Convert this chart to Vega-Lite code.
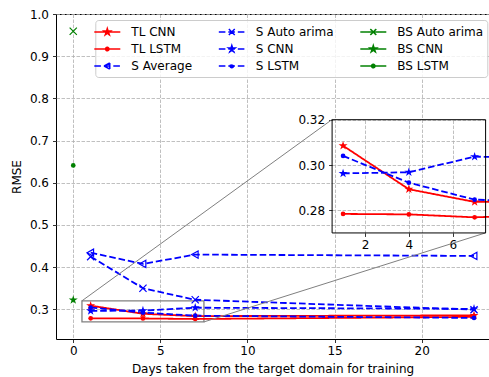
{
  "$schema": "https://vega.github.io/schema/vega-lite/v6.json",
  "width": 433,
  "height": 325,
  "autosize": "none",
  "padding": {"left": 56, "top": 14, "right": 0, "bottom": 38},
  "background": "white",
  "config": {
    "font": "DejaVu Sans",
    "view": {"stroke": "black", "strokeWidth": 1},
    "axis": {
      "labelFont": "DejaVu Sans", "labelFontSize": 12, "labelColor": "black",
      "titleFont": "DejaVu Sans", "titleFontSize": 12, "titleFontWeight": "normal", "titleColor": "black",
      "tickColor": "black", "tickSize": 3.5, "tickWidth": 0.8, "domain": false,
      "gridColor": "#b0b0b0", "gridDash": [3.5, 1.5], "gridWidth": 0.8
    }
  },
  "datasets": {
    "series": [
      {"series": "TL CNN", "x": 1, "y": 0.3085},
      {"series": "TL CNN", "x": 4, "y": 0.2893},
      {"series": "TL CNN", "x": 7, "y": 0.2837},
      {"series": "TL CNN", "x": 23, "y": 0.2855},
      {"series": "TL LSTM", "x": 1, "y": 0.2784},
      {"series": "TL LSTM", "x": 4, "y": 0.2782},
      {"series": "TL LSTM", "x": 7, "y": 0.2769},
      {"series": "TL LSTM", "x": 23, "y": 0.282},
      {"series": "S Average", "x": 1, "y": 0.434},
      {"series": "S Average", "x": 4, "y": 0.4075},
      {"series": "S Average", "x": 7, "y": 0.4296},
      {"series": "S Average", "x": 23, "y": 0.4265},
      {"series": "S Auto arima", "x": 1, "y": 0.4248},
      {"series": "S Auto arima", "x": 4, "y": 0.3498},
      {"series": "S Auto arima", "x": 7, "y": 0.3225},
      {"series": "S Auto arima", "x": 23, "y": 0.299},
      {"series": "S CNN", "x": 1, "y": 0.2963},
      {"series": "S CNN", "x": 4, "y": 0.2968},
      {"series": "S CNN", "x": 7, "y": 0.3037},
      {"series": "S CNN", "x": 23, "y": 0.301},
      {"series": "S LSTM", "x": 1, "y": 0.304},
      {"series": "S LSTM", "x": 4, "y": 0.2922},
      {"series": "S LSTM", "x": 7, "y": 0.2847},
      {"series": "S LSTM", "x": 23, "y": 0.2795},
      {"series": "BS Auto arima", "x": 0, "y": 0.959},
      {"series": "BS CNN", "x": 0, "y": 0.322},
      {"series": "BS LSTM", "x": 0, "y": 0.641}
    ],
    "zoom": [{"x": 0.5, "x2": 7.5, "y": 0.27, "y2": 0.32}],
    "conn": [
      {"x": 0.5, "y": 0.32, "x2": 14.86, "y2": 0.75},
      {"x": 7.5, "y": 0.27, "x2": 23.67, "y2": 0.4812}
    ]
  },
  "layer": [
    {
      "encoding": {
        "x": {"field": "x", "type": "quantitative",
          "scale": {"domain": [-0.99, 23.86], "nice": false, "zero": false},
          "axis": {"values": [0, 5, 10, 15, 20], "title": "Days taken from the target domain for training", "grid": true, "labelPadding": 3, "titlePadding": 6.5}},
        "y": {"field": "y", "type": "quantitative",
          "scale": {"domain": [0.2295, 1.0], "nice": false, "zero": false},
          "axis": {"values": [0.3, 0.4, 0.5, 0.6, 0.7, 0.8, 0.9, 1.0], "format": ".1f", "title": "RMSE", "grid": true, "labelPadding": 4, "titlePadding": 6}}
      },
      "layer": [
        {
          "data": {"name": "zoom"},
          "mark": {"type": "rect", "fill": null, "stroke": "#808080", "strokeWidth": 1.3},
          "encoding": {"x2": {"field": "x2"}, "y2": {"field": "y2"}}
        },
        {
          "data": {"name": "series"},
          "encoding": {
            "color": {"field": "series", "type": "nominal",
              "scale": {
                "domain": ["TL CNN", "TL LSTM", "S Average", "S Auto arima", "S CNN", "S LSTM", "BS Auto arima", "BS CNN", "BS LSTM"],
                "range": ["#ff0000", "#ff0000", "#0000ff", "#0000ff", "#0000ff", "#0000ff", "#008000", "#008000", "#008000"]
              },
              "legend": {
                "orient": "none", "legendX": 39.3, "legendY": 6, "columns": 3, "title": null,
                "labelFont": "DejaVu Sans", "labelFontSize": 12, "labelColor": "black", "labelOffset": 16,
                "symbolSize": 196, "symbolStrokeWidth": 1.5, "symbolOpacity": 1,
                "columnPadding": 23.5, "rowPadding": 3, "padding": 4,
                "fillColor": "rgba(255,255,255,0.8)", "strokeColor": "#cccccc", "cornerRadius": 3,
                "encode": {
                  "symbols": {
                    "update": {
                      "shape": {"signal": "indexof(datum.value,'CNN')>=0 ? 'M-1.857,0H1.857M0,-0.5L0.112,-0.155L0.476,-0.155L0.182,0.059L0.294,0.405L0,0.191L-0.294,0.405L-0.182,0.059L-0.476,-0.155L-0.112,-0.155Z' : indexof(datum.value,'LSTM')>=0 ? 'M-1.857,0H1.857M0.243,0A0.243,0.243,0,1,1,-0.243,0A0.243,0.243,0,1,1,0.243,0Z' : indexof(datum.value,'arima')>=0 ? 'M-1.857,0H1.857M0,0L0.42,0.42M0,0L-0.42,0.42M0,0L0.42,-0.42M0,0L-0.42,-0.42' : 'M-1.857,0H1.857M-0.44,0L0.35,-0.44M0.35,-0.44L0.35,0.44M0.35,0.44L-0.44,0'"},
                      "strokeDash": {"signal": "indexof(datum.value,'S ')===0 ? [6.6,2.9] : [1,0]"},
                      "fill": {"signal": "(indexof(datum.value,'CNN')>=0 || indexof(datum.value,'LSTM')>=0) ? (indexof(datum.value,'TL')===0 ? '#ff0000' : indexof(datum.value,'BS')===0 ? '#008000' : '#0000ff') : 'transparent'"},
                      "stroke": {"signal": "indexof(datum.value,'TL')===0 ? '#ff0000' : indexof(datum.value,'BS')===0 ? '#008000' : '#0000ff'"},
                      "strokeWidth": {"value": 1.5},
                      "size": {"value": 196}
                    }
                  }
                }
              }
            }
          },
          "layer": [
            {
              "mark": {"type": "line", "strokeWidth": 1.8, "clip": true},
              "encoding": {
                "strokeDash": {"field": "series", "type": "nominal",
                  "scale": {
                    "domain": ["TL CNN", "TL LSTM", "S Average", "S Auto arima", "S CNN", "S LSTM", "BS Auto arima", "BS CNN", "BS LSTM"],
                    "range": [[1, 0], [1, 0], [6.6, 2.9], [6.6, 2.9], [6.6, 2.9], [6.6, 2.9], [1, 0], [1, 0], [1, 0]]
                  },
                  "legend": null}
              }
            },
            {
              "transform": [{"filter": {"field": "series", "oneOf": ["TL CNN", "S CNN", "BS CNN"]}}],
              "mark": {"type": "point", "filled": true, "opacity": 1, "size": 90, "clip": true,
                "shape": "M0,-1L0.2245,-0.309L0.951,-0.309L0.363,0.118L0.588,0.809L0,0.382L-0.588,0.809L-0.363,0.118L-0.951,-0.309L-0.2245,-0.309Z"}
            },
            {
              "transform": [{"filter": {"field": "series", "oneOf": ["S Auto arima", "BS Auto arima"]}}],
              "mark": {"type": "point", "filled": false, "opacity": 1, "size": 52, "strokeWidth": 1.2, "clip": true,
                "shape": "M-1,-1L1,1M-1,1L1,-1"}
            },
            {
              "transform": [{"filter": {"field": "series", "oneOf": ["S Average"]}}],
              "mark": {"type": "point", "filled": false, "opacity": 1, "size": 52, "strokeWidth": 1.2, "clip": true,
                "shape": "M-1,0L0.8,-1L0.8,1Z"}
            },
            {
              "transform": [{"filter": {"field": "series", "oneOf": ["TL LSTM", "S LSTM", "BS LSTM"]}}],
              "mark": {"type": "point", "filled": true, "opacity": 1, "size": 22, "clip": true, "shape": "circle"}
            }
          ]
        },
        {
          "data": {"name": "conn"},
          "mark": {"type": "rule", "stroke": "#808080", "strokeWidth": 1},
          "encoding": {"x2": {"field": "x2"}, "y2": {"field": "y2"}}
        }
      ]
    },
    {
      "encoding": {
        "x": {"field": "x", "type": "quantitative",
          "scale": {"domain": [0.5, 7.5], "range": [276.1, 429.6], "nice": false, "zero": false},
          "axis": {"orient": "bottom", "offset": -106.05, "values": [2, 4, 6], "title": null, "grid": true, "labelPadding": 3}},
        "y": {"field": "y", "type": "quantitative",
          "scale": {"domain": [0.27, 0.32], "range": [218.95, 105.7], "nice": false, "zero": false},
          "axis": {"orient": "left", "offset": -276.1, "values": [0.28, 0.3, 0.32], "format": ".2f", "title": null, "grid": true, "labelPadding": 4}}
      },
      "layer": [
        {
          "data": {"name": "series"},
          "transform": [{"filter": {"field": "series", "oneOf": ["TL CNN", "TL LSTM", "S CNN", "S LSTM"]}}],
          "encoding": {
            "color": {"field": "series", "type": "nominal",
              "scale": {
                "domain": ["TL CNN", "TL LSTM", "S Average", "S Auto arima", "S CNN", "S LSTM", "BS Auto arima", "BS CNN", "BS LSTM"],
                "range": ["#ff0000", "#ff0000", "#0000ff", "#0000ff", "#0000ff", "#0000ff", "#008000", "#008000", "#008000"]
              },
              "legend": {
                "orient": "none", "legendX": 39.3, "legendY": 6, "columns": 3, "title": null,
                "labelFont": "DejaVu Sans", "labelFontSize": 12, "labelColor": "black", "labelOffset": 16,
                "symbolSize": 196, "symbolStrokeWidth": 1.5, "symbolOpacity": 1,
                "columnPadding": 23.5, "rowPadding": 3, "padding": 4,
                "fillColor": "rgba(255,255,255,0.8)", "strokeColor": "#cccccc", "cornerRadius": 3,
                "encode": {
                  "symbols": {
                    "update": {
                      "shape": {"signal": "indexof(datum.value,'CNN')>=0 ? 'M-1.857,0H1.857M0,-0.5L0.112,-0.155L0.476,-0.155L0.182,0.059L0.294,0.405L0,0.191L-0.294,0.405L-0.182,0.059L-0.476,-0.155L-0.112,-0.155Z' : indexof(datum.value,'LSTM')>=0 ? 'M-1.857,0H1.857M0.243,0A0.243,0.243,0,1,1,-0.243,0A0.243,0.243,0,1,1,0.243,0Z' : indexof(datum.value,'arima')>=0 ? 'M-1.857,0H1.857M0,0L0.42,0.42M0,0L-0.42,0.42M0,0L0.42,-0.42M0,0L-0.42,-0.42' : 'M-1.857,0H1.857M-0.44,0L0.35,-0.44M0.35,-0.44L0.35,0.44M0.35,0.44L-0.44,0'"},
                      "strokeDash": {"signal": "indexof(datum.value,'S ')===0 ? [6.6,2.9] : [1,0]"},
                      "fill": {"signal": "(indexof(datum.value,'CNN')>=0 || indexof(datum.value,'LSTM')>=0) ? (indexof(datum.value,'TL')===0 ? '#ff0000' : indexof(datum.value,'BS')===0 ? '#008000' : '#0000ff') : 'transparent'"},
                      "stroke": {"signal": "indexof(datum.value,'TL')===0 ? '#ff0000' : indexof(datum.value,'BS')===0 ? '#008000' : '#0000ff'"},
                      "strokeWidth": {"value": 1.5},
                      "size": {"value": 196}
                    }
                  }
                }
              }
            }
          },
          "layer": [
            {
              "mark": {"type": "line", "strokeWidth": 1.8, "clip": true},
              "encoding": {
                "strokeDash": {"field": "series", "type": "nominal",
                  "scale": {
                    "domain": ["TL CNN", "TL LSTM", "S Average", "S Auto arima", "S CNN", "S LSTM", "BS Auto arima", "BS CNN", "BS LSTM"],
                    "range": [[1, 0], [1, 0], [6.6, 2.9], [6.6, 2.9], [6.6, 2.9], [6.6, 2.9], [1, 0], [1, 0], [1, 0]]
                  },
                  "legend": null}
              }
            },
            {
              "transform": [{"filter": {"field": "series", "oneOf": ["TL CNN", "S CNN"]}}],
              "mark": {"type": "point", "filled": true, "opacity": 1, "size": 90, "clip": true,
                "shape": "M0,-1L0.2245,-0.309L0.951,-0.309L0.363,0.118L0.588,0.809L0,0.382L-0.588,0.809L-0.363,0.118L-0.951,-0.309L-0.2245,-0.309Z"}
            },
            {
              "transform": [{"filter": {"field": "series", "oneOf": ["TL LSTM", "S LSTM"]}}],
              "mark": {"type": "point", "filled": true, "opacity": 1, "size": 22, "clip": true, "shape": "circle"}
            }
          ]
        },
        {
          "data": {"name": "zoom"},
          "mark": {"type": "rect", "fill": null, "stroke": "black", "strokeWidth": 1},
          "encoding": {"x2": {"field": "x2"}, "y2": {"field": "y2"}}
        }
      ]
    }
  ],
  "resolve": {"scale": {"x": "independent", "y": "independent"}}
}
